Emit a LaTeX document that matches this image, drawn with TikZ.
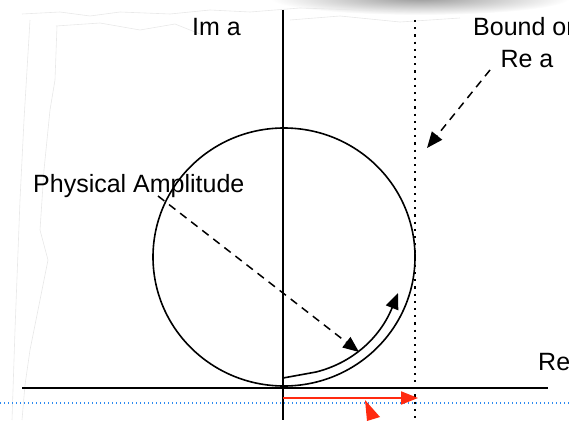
\documentclass[tikz,border=0pt]{standalone}
\usepackage{fontspec}
\setmainfont{Liberation Sans}
\usetikzlibrary{arrows.meta,fadings}
\definecolor{redarrow}{HTML}{FF2A10}
\definecolor{bluedot}{HTML}{2E8BF0}
\tikzfading[name=softglow, inner color=transparent!20, outer color=transparent!100]
\tikzset{
  lbl/.style={inner sep=0pt, font=\fontsize{25}{30}\selectfont},
  axisline/.style={line width=1.6pt, black},
  dashedarrow/.style={line width=1.5pt, dash pattern=on 8pt off 6pt, -{Triangle[length=16pt,width=13pt]}},
  solidarrow/.style={line width=1.6pt, -{Triangle[length=16pt,width=13pt]}},
  redline/.style={line width=2pt, redarrow, -{Triangle[length=17pt,width=13pt]}},
  torn/.style={black!9, line width=0.6pt},
}
\begin{document}
\begin{tikzpicture}[x=1pt,y=-1pt]
\useasboundingbox (0,0) rectangle (569,420);
\clip (0,0) rectangle (569,420);
% top shadow of the torn paper
\fill[black!50, path fading=softglow] (420,-2) ellipse [x radius=150, y radius=17];
% faint torn edges
\draw[torn] (22,14) -- (60,12) -- (90,16) -- (120,12) -- (170,14) -- (210,10) -- (250,12) -- (300,8) -- (420,12);
\draw[torn] (56,26) -- (100,23) -- (140,30) -- (175,24) -- (200,34);
\draw[torn] (290,20) -- (340,16) -- (400,22) -- (460,18);
\draw[torn] (57,26) -- (55,80) -- (50,110) -- (44,170) -- (40,230) -- (48,260) -- (40,300) -- (30,350) -- (25,385) -- (22,420);
\draw[torn] (30,20) -- (24,120) -- (20,200) -- (15,330) -- (12,420);
% labels
\node[lbl, anchor=base west] (ima) at (192,35) {Im a};
\node[lbl, anchor=base west] (bound1) at (473,35) {Bound on};
\node[lbl, anchor=base] (bound2) at (527,67) {Re a};
\node[lbl, anchor=base west] (pa) at (33,192) {Physical Amplitude};
\node[lbl, anchor=base west] (re) at (538,370) {Re};
% axes
\coordinate (vtop) at (283,10);
\coordinate (vbot) at (283,420);
\coordinate (hl) at (22,388);
\coordinate (hr) at (548,388);
\draw[axisline] (vtop) -- (vbot);
\draw[axisline] (hl) -- (hr);
% bound line
\coordinate (dtop) at (415,20);
\coordinate (dbot) at (415,420);
\draw[line width=2pt, dash pattern=on 2.2pt off 5pt] (dtop) -- (dbot);
% blue dotted line
\coordinate (bl) at (0,403);
\coordinate (br) at (569,403);
\draw[bluedot, line width=1.3pt, dash pattern=on 1.4pt off 2.6pt] (bl) -- (br);
% circle
\draw[line width=1.6pt] (284,257) ellipse [x radius=131, y radius=129];
% dashed arrows
\coordinate (b0) at (490,70);
\coordinate (b1) at (427,148);
\draw[dashedarrow] (b0) -- (b1);
\coordinate (p0) at (158,196);
\coordinate (p1) at (359,352);
\draw[dashedarrow] (p0) -- (p1);
% curved arrow
\coordinate (s0) at (283,378);
\coordinate (s1) at (316,372);
\coordinate (s2) at (398,293);
\draw[solidarrow] (s0) -- (s1) .. controls (352,363) and (380,338) .. (s2);
% red arrow
\coordinate (r0) at (283,398);
\coordinate (r1) at (418,398);
\draw[redline] (r0) -- (r1);
\fill[redarrow] (365,400) -- (380,417) -- (367,421) -- cycle;
\end{tikzpicture}
\end{document}
